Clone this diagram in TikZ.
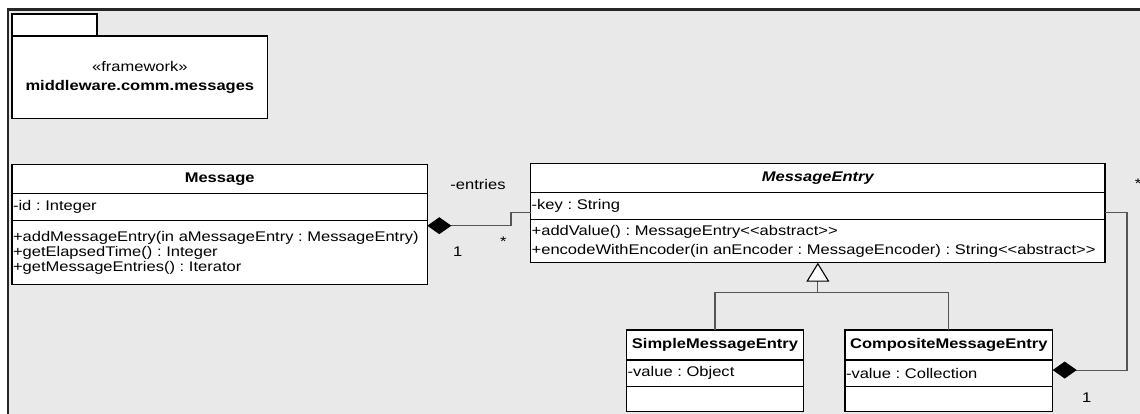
\documentclass[tikz,border=0pt]{standalone}
\usepackage{fontspec}
\setmainfont{Liberation Sans}[FakeStretch=1.18]
\usetikzlibrary{arrows.meta}

\definecolor{canvasgray}{RGB}{233,233,233}
\definecolor{linkgray}{RGB}{85,85,85}
\frenchspacing

\begin{document}
\begin{tikzpicture}[x=1pt, y=-1pt, font=\fontsize{14}{15}\selectfont,
  cls/.style 2 args={draw=black, line width=1.1pt, fill=white, anchor=north west, outer sep=0pt,
    inner xsep=1pt, inner ysep=0pt, text width=#1, minimum height=#2, align=left},
  clshead/.style 2 args={cls={#1}{#2}, align=center, font=\fontsize{14}{15}\selectfont\bfseries},
  comp/.style={draw=linkgray, line width=1.1pt, {Diamond[length=24pt, width=17pt, fill=black, color=black]}-},
  genline/.style={draw=linkgray, line width=1.1pt},
  genarrow/.style={genline, -{Triangle[open, length=19pt, width=23pt, fill=white, color=black]}},
  lbl/.style={inner sep=0pt}]

\useasboundingbox (0,0) rectangle (1140,414);

% cornice del diagramma
\fill[canvasgray] (8,9.5) rectangle (1141,415);
\draw[line width=2.2pt, black!85] (8,415) -- (8,9.5) -- (1141,9.5);

% package
\node[cls={83}{22}] (pkgtab) at (12,14) {};
\node[cls={253.7}{82.3}, align=center] (pkg) at (12,36) {«framework»\\[4pt]\textbf{middleware.comm.messages}};

% Message
\node[clshead={413.3}{29}] (msgH) at (12,164.7) {Message};
\node[cls={413.3}{27}] (msgA) at (msgH.south west) {-id : Integer};
\node[cls={413.3}{63.6}] (msgO) at (msgA.south west) {+addMessageEntry(in aMessageEntry : MessageEntry)\\+getElapsedTime() : Integer\\+getMessageEntries() : Iterator};

% MessageEntry
\node[clshead={572.3}{29.4}, font=\fontsize{14}{15}\selectfont\bfseries\itshape] (meH) at (530.7,163.3) {MessageEntry};
\node[cls={572.3}{27}] (meA) at (meH.south west) {-key : String};
\node[cls={572.3}{43}] (meO) at (meA.south west) {+addValue() : MessageEntry<{}<abstract>{}>\\[3.5pt]+encodeWithEncoder(in anEncoder : MessageEncoder) : String<{}<abstract>{}>};

% SimpleMessageEntry
\node[clshead={174.6}{30}] (simH) at (626.7,330) {SimpleMessageEntry};
\node[cls={174.6}{26.7}] (simA) at (simH.south west) {-value : Object};
\node[cls={174.6}{25}] (simO) at (simA.south west) {};

% CompositeMessageEntry
\node[clshead={205.7}{30}] (comH) at (845,330) {CompositeMessageEntry};
\node[cls={205.7}{26.7}] (comA) at (comH.south west) {-value : Collection};
\node[cls={205.7}{25}] (comO) at (comA.south west) {};

% Archi
\coordinate (genjoin) at (meO.south |- 0,292.3);
\draw[genline] (simH.north) |- (genjoin) -| (comH.north);
\draw[genarrow] (genjoin) -- (meO.south);

\draw[comp] ([yshift=-5pt]msgO.north east) -- ++(83.7,0) |- ([yshift=-6.5pt]meA.west);
\draw[comp] ([yshift=3.3pt]comA.east) -- ++(74.3,0) |- ([yshift=-6.5pt]meA.east);

% molteplicita
\node[lbl] (entries) at (478,184) {-entries};
\node[lbl] (msgone) at (457.7,251.7) {1};
\node[lbl, anchor=base] (msgmany) at (503.3,246) {*};
\node[lbl, anchor=base] (commany) at (1138,188.7) {*};
\node[lbl] (comone) at (1086.7,398) {1};

\end{tikzpicture}
\end{document}
